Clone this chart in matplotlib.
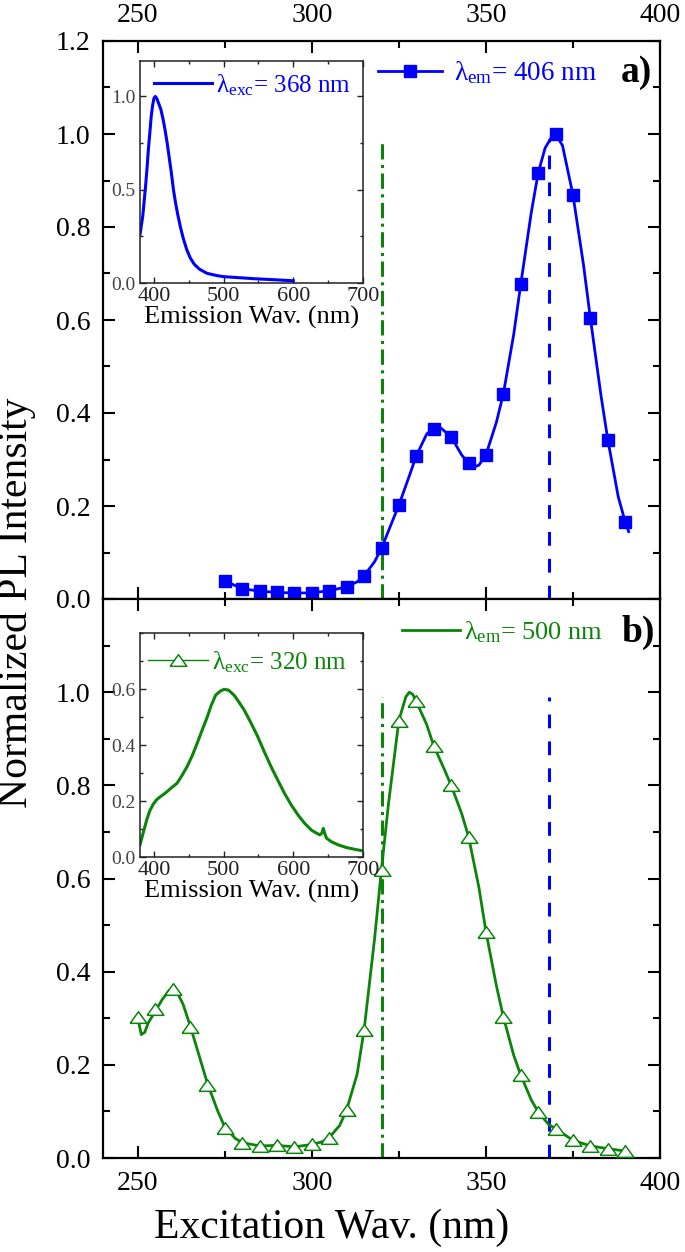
import numpy as np
import matplotlib
matplotlib.use("Agg")
import matplotlib.pyplot as plt
from matplotlib.lines import Line2D
from matplotlib.ticker import MultipleLocator, FormatStrFormatter

plt.rcParams['font.family'] = ['Liberation Serif', 'DejaVu Serif']
plt.rcParams['mathtext.fontset'] = 'custom'
plt.rcParams['mathtext.rm'] = 'Liberation Serif'
plt.rcParams['mathtext.it'] = 'Liberation Serif:italic'

BLUE = '#0000ff'
GREEN = '#0a850a'

# ---------------- data: panel a (excitation, lambda_em = 406 nm) ----------------
exc_a_x = [275, 280, 285, 290, 295, 300, 305, 310, 315, 320, 325, 330, 335, 340,
           345, 350, 355, 360, 365, 370, 375, 380, 385, 390]
exc_a_y = [0.039, 0.022, 0.017, 0.014, 0.013, 0.013, 0.018, 0.026, 0.050, 0.109,
           0.202, 0.308, 0.365, 0.349, 0.292, 0.310, 0.441, 0.677, 0.916, 1.000,
           0.869, 0.604, 0.343, 0.166]
# continuous curve of panel a
curve_a_x = [275, 280, 285, 290, 295, 300, 305, 310, 313, 315, 318, 320, 323, 325,
             328, 330, 333, 335, 337, 340, 343, 345, 347, 348, 350, 353, 355, 358,
             360, 363, 365, 367, 369, 370, 372, 375, 378, 380, 383, 385, 388, 390, 391]
curve_a_y = [0.039, 0.022, 0.017, 0.014, 0.013, 0.013, 0.018, 0.026, 0.037, 0.050,
             0.080, 0.109, 0.165, 0.202, 0.265, 0.308, 0.355, 0.368, 0.368, 0.349,
             0.310, 0.292, 0.285, 0.288, 0.310, 0.380, 0.441, 0.570, 0.677, 0.830,
             0.916, 0.970, 0.995, 1.000, 0.975, 0.869, 0.720, 0.604, 0.440, 0.343,
             0.220, 0.166, 0.145]

# inset a: emission spectrum (lambda_exc = 368 nm)
em_a_x = [380, 382, 384, 386, 388, 390, 392, 394, 396, 398, 400, 402, 404, 406,
          408, 410, 413, 416, 419, 422, 425, 428, 431, 434, 438, 442, 447, 452,
          458, 465, 476, 490, 500, 520, 544, 570, 600]
em_a_y = [0.26, 0.31, 0.36, 0.44, 0.52, 0.61, 0.715, 0.80, 0.89, 0.95, 0.99, 1.00,
          0.99, 0.97, 0.95, 0.93, 0.88, 0.82, 0.75, 0.67, 0.59, 0.50, 0.43, 0.37,
          0.30, 0.24, 0.18, 0.135, 0.10, 0.075, 0.052, 0.040, 0.034, 0.029, 0.023,
          0.018, 0.012]

# ---------------- data: panel b (excitation, lambda_em = 500 nm) ----------------
exc_b_x = [250, 255, 260, 265, 270, 275, 280, 285, 290, 295, 300, 305, 310, 315,
           320, 325, 330, 335, 340, 345, 350, 355, 360, 365, 370, 375, 380, 385, 390]
exc_b_y = [0.302, 0.320, 0.363, 0.282, 0.156, 0.065, 0.032, 0.026, 0.027, 0.024,
           0.029, 0.044, 0.104, 0.275, 0.619, 0.938, 0.981, 0.884, 0.800, 0.689,
           0.486, 0.303, 0.178, 0.099, 0.063, 0.038, 0.026, 0.020, 0.015]
curve_b_x = [250, 251, 252, 253, 255, 257, 259, 261, 263, 265, 268, 270, 273, 275,
             278, 280, 285, 290, 295, 300, 303, 305, 308, 310, 313, 315, 318, 320,
             322, 325, 327, 328, 329, 330, 333, 335, 338, 340, 343, 345, 348, 350,
             353, 355, 358, 360, 363, 365, 368, 370, 375, 380, 385, 390]
curve_b_y = [0.300, 0.265, 0.270, 0.290, 0.315, 0.340, 0.360, 0.360, 0.330, 0.285,
             0.210, 0.160, 0.100, 0.066, 0.042, 0.033, 0.026, 0.027, 0.024, 0.029,
             0.035, 0.044, 0.070, 0.104, 0.180, 0.275, 0.470, 0.620, 0.760, 0.940,
             0.990, 1.000, 0.995, 0.980, 0.930, 0.885, 0.835, 0.800, 0.740, 0.690,
             0.580, 0.486, 0.370, 0.303, 0.220, 0.178, 0.125, 0.099, 0.072, 0.063,
             0.038, 0.026, 0.020, 0.015]

# inset b: emission spectrum (lambda_exc = 320 nm)
em_b_x = [380, 385, 389.6, 394, 399.3, 404, 409, 414, 418.6, 425, 433, 440, 447.6,
          455, 462, 469, 476.5, 482, 488.5, 495, 500.6, 507, 515, 522, 529.5, 539,
          548.9, 558, 568, 578, 587.4, 597, 606.8, 616, 626, 632, 638, 641, 643,
          645, 647.7, 655, 664.7, 676, 688.7, 700]
em_b_y = [0.043, 0.090, 0.132, 0.165, 0.190, 0.205, 0.215, 0.224, 0.233, 0.247,
          0.263, 0.290, 0.323, 0.362, 0.406, 0.452, 0.500, 0.540, 0.578, 0.592,
          0.599, 0.596, 0.578, 0.553, 0.525, 0.480, 0.430, 0.378, 0.323, 0.273,
          0.227, 0.186, 0.150, 0.121, 0.096, 0.087, 0.079, 0.085, 0.102, 0.085,
          0.067, 0.054, 0.043, 0.034, 0.027, 0.022]

# marker lines
exc_line_320 = 320
exc_line_368 = 368
marker_line_top = 0.99

# tick labels
main_xticks = [250, 300, 350, 400]
main_yticks_a = [0.0, 0.2, 0.4, 0.6, 0.8, 1.0, 1.2]
main_yticks_b = [0.0, 0.2, 0.4, 0.6, 0.8, 1.0, 1.2]
inset_xticks = [400, 500, 600, 700]
inset_yticks_a = [0.0, 0.5, 1.0]
inset_yticks_b = [0.0, 0.2, 0.4, 0.6]

W, H = 685, 1252
fig = plt.figure(figsize=(W / 100, H / 100), dpi=100)

def px_rect(l, t, r, b):
    return [l / W, 1 - b / H, (r - l) / W, (b - t) / H]

axA = fig.add_axes(px_rect(103, 41, 660, 599))
axB = fig.add_axes(px_rect(103, 599, 660, 1158))

def style_main(ax):
    ax.set_xlim(240, 400)
    ax.set_ylim(0, 1.2)
    ax.set_xticks(main_xticks)
    ax.xaxis.set_minor_locator(MultipleLocator(25))
    ax.yaxis.set_minor_locator(MultipleLocator(0.1))
    ax.tick_params(which='both', direction='in', top=True, right=True, width=1.5,
                   labelsize=20, pad=9)
    ax.tick_params(which='major', length=8.5)
    ax.tick_params(which='minor', length=5)
    for s in ax.spines.values():
        s.set_linewidth(1.6)

style_main(axA)
style_main(axB)
axA.tick_params(labeltop=True, labelbottom=False)
axA.set_yticks(main_yticks_a)
axA.set_yticklabels(['%.1f' % v for v in main_yticks_a])
axB.set_yticks(main_yticks_b)
axB.set_yticklabels(['%.1f' % v if v < 1.1 else '' for v in main_yticks_b])

# vertical marker lines
for ax in (axA, axB):
    ax.vlines(exc_line_320, 0, marker_line_top, colors=GREEN, lw=2.2,
              linestyles=[(0, (5.0, 1.8, 1.0, 1.8))], zorder=2)
    ax.vlines(exc_line_368, 0, marker_line_top, colors=BLUE, lw=2.2,
              linestyles=[(0, (4.5, 4.3))], zorder=2)

# panel a
axA.plot(curve_a_x, curve_a_y, color=BLUE, lw=2, zorder=3)
axA.plot(exc_a_x, exc_a_y, ls='none', marker='s', ms=8.5, color=BLUE, zorder=4)
hA = Line2D([], [], color=BLUE, lw=2, marker='s', ms=8.5)
axA.legend([hA], ['λ$_{\\mathregular{em}}$= 406 nm'], loc='center left',
           bbox_to_anchor=((378 - 103) / 557, (599 - 73) / 558), frameon=False,
           fontsize=19.5, labelcolor=BLUE, handlelength=2.35, handletextpad=0.45,
           borderpad=0, borderaxespad=0, numpoints=1)
axA.text((621 - 103) / 557, (599 - 73) / 558, 'a)', transform=axA.transAxes,
         fontsize=27, fontweight='bold', ha='left', va='center')

# panel b
tri = [(-1, -0.7), (1, -0.7), (0, 0.7), (-1, -0.7)]
lineB, = axB.plot(curve_b_x, curve_b_y, color=GREEN, lw=2, zorder=3)
axB.plot(exc_b_x, exc_b_y, ls='none', marker=tri, ms=12, mfc='white', mec=GREEN,
         mew=1.1, zorder=4)
axB.legend([lineB], ['λ$_{\\mathregular{em}}$= 500 nm'], loc='center left',
           bbox_to_anchor=((402 - 103) / 557, (1158 - 632) / 559), frameon=False,
           fontsize=19, labelcolor=GREEN, handlelength=2.2, handletextpad=0.15,
           borderpad=0, borderaxespad=0)
axB.text((621 - 103) / 557, (1158 - 632) / 559, 'b)', transform=axB.transAxes,
         fontsize=27, fontweight='bold', ha='left', va='center')

# insets
insA = fig.add_axes(px_rect(140, 61, 363, 283))
insB = fig.add_axes(px_rect(140, 633, 363, 857))

def style_inset(ax):
    ax.set_xlim(380, 700)
    ax.set_xticks(inset_xticks)
    ax.xaxis.set_minor_locator(MultipleLocator(50))
    ax.tick_params(which='both', direction='in', top=True, right=True, width=1,
                   colors='#222222')
    ax.tick_params(axis='x', labelsize=16, pad=3)
    ax.tick_params(axis='y', labelsize=14, pad=3, labelcolor='#444444')
    ax.tick_params(which='major', length=4.5)
    ax.tick_params(which='minor', length=2.5)
    for s in ax.spines.values():
        s.set_linewidth(1.1)
        s.set_color('#222222')
    ax.set_xlabel('Emission Wav. (nm)', fontsize=19, labelpad=0)

style_inset(insA)
style_inset(insB)
insA.set_ylim(0, 1.19)
insA.set_yticks(inset_yticks_a)
insA.yaxis.set_minor_locator(MultipleLocator(0.25))
insA.yaxis.set_major_formatter(FormatStrFormatter('%.1f'))
insB.set_ylim(0, 0.8)
insB.set_yticks(inset_yticks_b)
insB.yaxis.set_minor_locator(MultipleLocator(0.1))
insB.yaxis.set_major_formatter(FormatStrFormatter('%.1f'))

lA, = insA.plot(em_a_x, em_a_y, color=BLUE, lw=2.2)
insA.legend([lA], ['λ$_{\\mathregular{exc}}$= 368 nm'], loc='center left',
            bbox_to_anchor=((154 - 140) / 223, (283 - 85) / 222), frameon=False,
            fontsize=18, labelcolor=BLUE, handlelength=2.3, handletextpad=0.2,
            borderpad=0, borderaxespad=0)

insB.plot(em_b_x, em_b_y, color=GREEN, lw=2.2)
hB = Line2D([], [], color=GREEN, lw=1, marker=tri, ms=12, mfc='white', mec=GREEN,
            mew=1.1)
insB.legend([hB], ['λ$_{\\mathregular{exc}}$= 320 nm'], loc='center left',
            bbox_to_anchor=((148 - 140) / 223, (857 - 662) / 224), frameon=False,
            fontsize=18, labelcolor=GREEN, handlelength=2.4, handletextpad=0.15,
            borderpad=0, borderaxespad=0, numpoints=1)

# axis labels
fig.text(17 / W, 1 - 603 / H, 'Normalized PL Intensity', rotation=90, fontsize=30,
         ha='center', va='center')
fig.text(332 / W, 1 - 1228 / H, 'Excitation Wav. (nm)', fontsize=30,
         ha='center', va='center')

fig.savefig('out.png', dpi=100)
